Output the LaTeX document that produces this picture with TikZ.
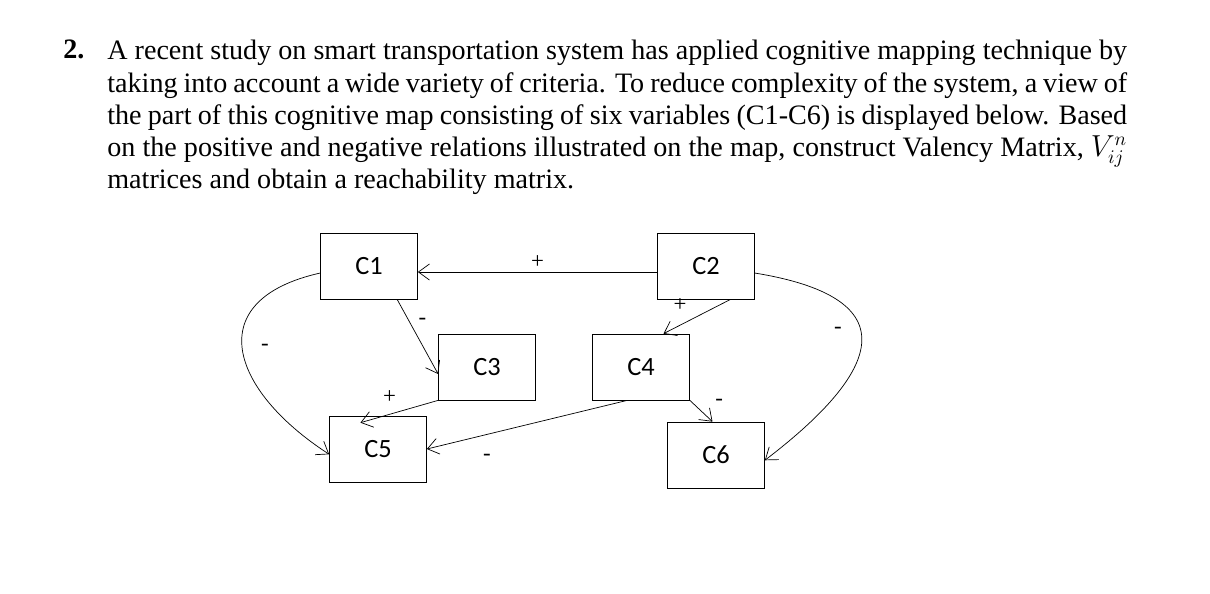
\documentclass[tikz,border=0pt]{standalone}
\usepackage{fontspec}
\setmainfont{Liberation Serif}
\newfontfamily\boxfont{Carlito}
\usetikzlibrary{arrows.meta,positioning}
\begin{document}
\begin{tikzpicture}[x=0.02cm,y=-0.02cm,>={Straight Barb[length=2.2mm,width=3.2mm]}]
	\tikzstyle{block} = [draw, rectangle, minimum height=1.32cm, minimum width=1.94cm, font=\boxfont\fontsize{15}{18}\selectfont]
	\tikzstyle{sign} = [font=\fontsize{13}{15}\selectfont, inner sep=1pt]
	\useasboundingbox (0,0) rectangle (1210,593);
	
	\node [anchor=north west, inner sep=0pt] (num) at (63,40) {\fontsize{16}{18}\selectfont\bfseries 2.};
	\node [anchor=north west, inner sep=0pt, text width=20.4cm, align=justify] (text) at (107,40)
	{\fontsize{16}{18.3}\selectfont A recent study on smart transportation system has applied cognitive mapping technique by\linebreak taking into account a wide variety of criteria. To reduce complexity of the system, a view of\linebreak the part of this cognitive map consisting of six variables (C1-C6) is displayed below. Based\linebreak on the positive and negative relations illustrated on the map, construct Valency Matrix, $V_{ij}^{n}$\linebreak matrices and obtain a reachability matrix.\par};
	
	\node [block] (c1) at (369,266) {C1};
	\node [block] (c2) at (706,266) {C2};
	\node [block] (c3) at (487,367) {C3};
	\node [block] (c4) at (641,367) {C4};
	\node [block] (c5) at (378,449) {C5};
	\node [block] (c6) at (716,455) {C6};
	
	\draw [->] (c2.west |- 0,272) -- node[sign, above=1pt]{+} (c1.east |- 0,272);
	\draw [->] ([xshift=16]c1.south) -- node[sign, pos=0.3, right=4pt]{-} ([yshift=-4]c3.west);
	\draw [->] (c3.south west) -- node[sign, pos=0.45, above left=4pt]{+} ([xshift=-10,yshift=-4]c5.north);
	\draw [->] ([xshift=14]c2.south) -- node[sign, pos=0.55, above left=4pt]{+} ([xshift=-15]c4.north east);
	\draw [->] ([xshift=20]c4.south west) -- node[sign, pos=0.7, below=10pt]{-} (c5.east);
	\draw [->] (c4.south east) -- node[sign, pos=0.1, right=12pt]{-} ([xshift=-2]c6.north);
	\draw [->] ([yshift=-4]c1.west) .. controls (200,300) and (230,390) .. ([yshift=-3]c5.west);
	\node [sign] (m1) at (265,347) {-};
	\draw [->] ([yshift=-4]c2.east) .. controls (920,300) and (870,380) .. ([yshift=-3]c6.east);
	\node [sign] (m2) at (838,330) {-};
\end{tikzpicture}
\end{document}
